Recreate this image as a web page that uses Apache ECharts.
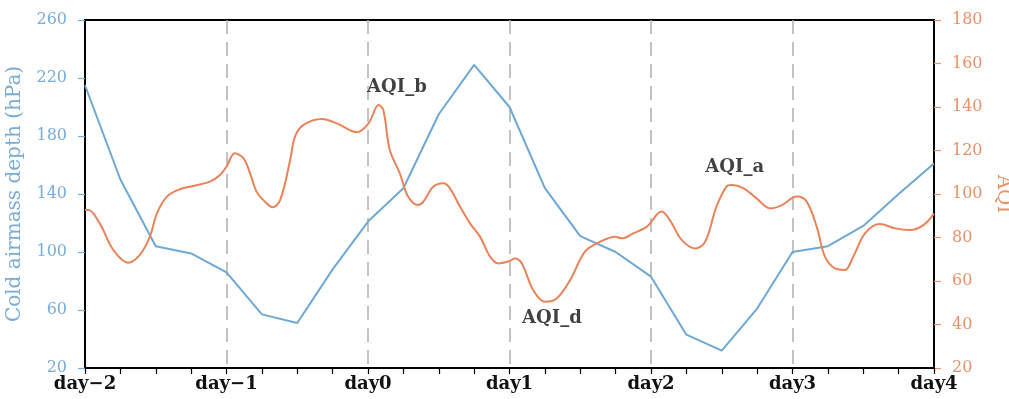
<!DOCTYPE html>
<html>
<head>
<meta charset="utf-8">
<script src="https://cdn.jsdelivr.net/npm/echarts@6/dist/echarts.min.js"></script>
<style>
html,body{margin:0;padding:0;background:#fff;}
#chart{width:1009px;height:399px;}
</style>
</head>
<body>
<div id="chart"></div>
<script>
// x labels (every 24 h from day-2)
var dayLabels = ['day\u22122', 'day\u22121', 'day0', 'day1', 'day2', 'day3', 'day4'];

// Cold airmass depth (hPa), every 6 h from day-2 to day4
var depthHours = [0, 6, 12, 18, 24, 30, 36, 42, 48, 54, 60, 66, 72, 78, 84, 90, 96, 102, 108, 114, 120, 126, 132, 138, 144];
var depthValues = [215, 150, 104, 99, 86, 57, 51, 88, 121, 144, 195, 229, 200, 144, 111, 100, 83, 43, 32, 61, 100, 104, 118, 140, 161];

// AQI, read at turning points (hours from day-2)
var aqiHours = [0, 0.6, 2.5, 4.8, 7.3, 9.3, 11.0, 12.2, 13.9, 16.1, 18.4, 21.2, 22.9, 24.0, 25.4, 26.9, 28.0, 29.1, 30.5, 31.8,
  33.1, 34.8, 35.6, 37.0, 40.2, 42.7, 46.1, 48.1, 49.8, 50.6, 51.7, 53.4, 54.8, 56.5, 57.4, 59.1, 60.8, 61.9, 63.6, 65.3,
  67.0, 68.7, 70.1, 72.1, 72.9, 74.1, 76.0, 78.0, 80.0, 82.3, 84.8, 87.4, 89.9, 91.0, 93.0, 95.3, 97.8, 99.2, 101.2, 103.5,
  105.2, 107.1, 108.8, 109.7, 111.7, 113.9, 116.2, 118.2, 120.7, 122.4, 124.1, 125.5, 127.2, 128.9, 130.3, 132.3, 134.8, 137.4, 139.9, 142.2, 144];
var aqiValues = [92.6, 92.6, 86.5, 74.3, 68.4, 72.0, 80.4, 91.1, 98.8, 102.2, 103.7, 105.7, 108.7, 112.6, 118.7, 116.4, 109.5, 101.1, 96.5, 93.9,
  97.2, 115.6, 126.3, 131.7, 134.5, 132.5, 128.4, 132.5, 140.9, 138.6, 120.2, 109.5, 98.8, 94.9, 96.5, 103.4, 104.9, 102.6, 94.2, 86.5,
  80.4, 71.2, 68.1, 69.3, 70.4, 68.1, 55.9, 50.5, 52.0, 60.5, 73.5, 78.1, 80.4, 79.6, 81.9, 85.0, 91.9, 88.0, 78.9, 75.0,
  78.1, 94.2, 103.4, 104.1, 102.6, 98.0, 93.4, 94.9, 98.8, 96.5, 85.0, 71.2, 65.8, 65.1, 71.2, 81.9, 86.2, 84.2, 83.4, 85.7, 91];

// Text annotations placed in data coordinates (hours, AQI)
var noteNames = ['AQI_b', 'AQI_d', 'AQI_a'];
var noteHours = [52.9, 79.2, 110.2];
var noteValues = [149.2, 43.0, 112.4];

var blue = '#6fa8d4';
var orange = '#e8835a';
var blueText = '#79acd6';
var orangeText = '#e99168';
var serif = 'DejaVu Serif';

var depthData = depthHours.map(function (h, i) { return [h, depthValues[i]]; });
var aqiData = aqiHours.map(function (h, i) { return [h, aqiValues[i]]; });
var noteData = noteNames.map(function (n, i) { return { name: n, value: [noteHours[i], noteValues[i]] }; });

var chart = echarts.init(document.getElementById('chart'), null, { renderer: 'canvas' });
chart.setOption({
  animation: false,
  backgroundColor: '#fff',
  grid: { left: 85, right: 75, top: 20, bottom: 31, containLabel: false, outerBoundsMode: 'none',
    show: true, borderColor: '#000', borderWidth: 2, backgroundColor: 'transparent' },
  xAxis: {
    type: 'value', min: 0, max: 144, interval: 24,
    axisLine: { show: true, lineStyle: { color: '#000', width: 2 } },
    axisTick: { show: true, inside: false, length: 6, lineStyle: { color: '#000', width: 1.2 } },
    minorTick: { show: true, splitNumber: 4, length: 6, lineStyle: { color: '#000', width: 1.2 } },
    splitLine: { show: true, showMinLine: false, showMaxLine: false, lineStyle: { color: '#b0b0b0', width: 1.5, type: [14, 8] } },
    axisLabel: {
      margin: 7, color: '#111', fontFamily: serif, fontWeight: 'bold', fontSize: 18,
      formatter: function (v) { return dayLabels[Math.round(v / 24)]; }
    }
  },
  yAxis: [{
    type: 'value', min: 20, max: 260, interval: 40, position: 'left',
    name: 'Cold airmass depth (hPa)', nameLocation: 'middle', nameGap: 60, nameRotate: 90,
    nameTextStyle: { color: blueText, fontFamily: serif, fontSize: 20 },
    axisLine: { show: true, lineStyle: { color: '#000', width: 2 } },
    axisTick: { show: true, inside: false, length: 7, lineStyle: { color: blueText, width: 1.2 } },
    splitLine: { show: false },
    axisLabel: { margin: 18, color: blueText, fontFamily: serif, fontSize: 16 }
  }, {
    type: 'value', min: 20, max: 180, interval: 20, position: 'right',
    name: 'AQI', nameLocation: 'middle', nameGap: 58, nameRotate: -90,
    nameTextStyle: { color: orangeText, fontFamily: serif, fontSize: 20 },
    axisLine: { show: true, lineStyle: { color: '#000', width: 2 } },
    axisTick: { show: true, inside: false, length: 7, lineStyle: { color: orangeText, width: 1.2 } },
    splitLine: { show: false },
    axisLabel: { margin: 18, color: orangeText, fontFamily: serif, fontSize: 16 }
  }],
  series: [{
    name: 'Cold airmass depth', type: 'line', yAxisIndex: 0, data: depthData,
    showSymbol: false, smooth: false, lineStyle: { color: blue, width: 2 }, z: 3
  }, {
    name: 'AQI', type: 'line', yAxisIndex: 1, data: aqiData,
    showSymbol: false, smooth: 0.35, lineStyle: { color: orange, width: 2 }, z: 4
  }, {
    name: 'notes', type: 'scatter', yAxisIndex: 1, data: noteData,
    symbolSize: 1, itemStyle: { color: 'transparent' }, silent: true,
    label: { show: true, position: 'inside', formatter: '{b}', color: '#111', fontFamily: serif, fontWeight: 'bold', fontSize: 18 }
  }]
});
</script>
</body>
</html>
